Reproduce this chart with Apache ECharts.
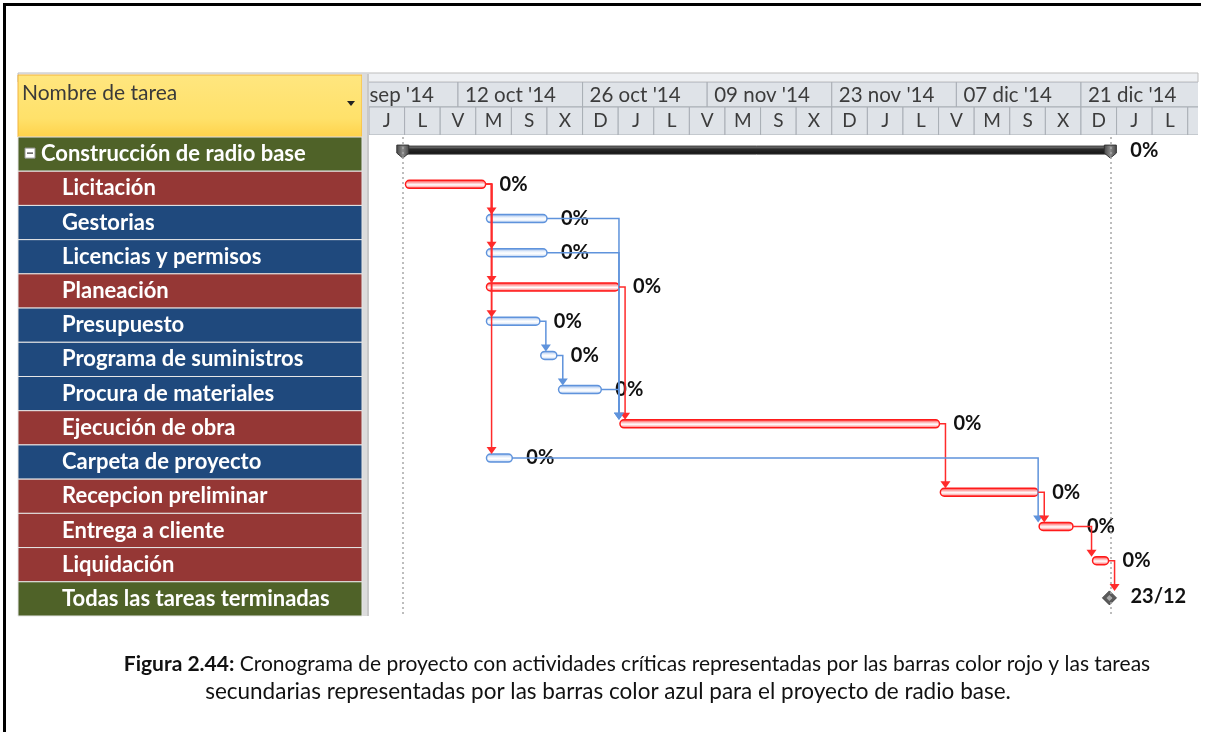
<!DOCTYPE html>
<html>
<head>
<meta charset="utf-8">
<script src="https://cdn.jsdelivr.net/npm/echarts@6/dist/echarts.min.js"></script>
<style>
  html, body { margin: 0; padding: 0; background: #fff; }
  #main { width: 1205px; height: 732px; }
</style>
</head>
<body>
<div id="main"></div>
<script>
// dia 0 = jueves 2 oct 2014
const taskNames = [
  'Construcción de radio base', 'Licitación', 'Gestorias', 'Licencias y permisos',
  'Planeación', 'Presupuesto', 'Programa de suministros', 'Procura de materiales',
  'Ejecución de obra', 'Carpeta de proyecto', 'Recepcion preliminar',
  'Entrega a cliente', 'Liquidación', 'Todas las tareas terminadas'
];
const taskType = ['resumen', 'critica', 'normal', 'normal', 'critica', 'normal', 'normal',
  'normal', 'critica', 'normal', 'critica', 'critica', 'critica', 'hito'];
const taskStart = [3.8, 4.1, 13.2, 13.2, 13.2, 13.2, 19.3, 21.3, 28.2, 13.2, 64.2, 75.3, 81.3, 83.2];
const taskEnd = [83.3, 13.1, 20.0, 20.0, 28.1, 19.2, 21.1, 26.1, 64.1, 16.1, 75.2, 79.1, 83.1, 83.2];
const taskLabel = ['0%', '0%', '0%', '0%', '0%', '0%', '0%', '0%', '0%', '0%', '0%', '0%', '0%', '23/12'];
// predecesora -> sucesora
const links = [[1, 2], [1, 3], [1, 4], [1, 5], [1, 9], [2, 8], [3, 8], [4, 8], [5, 6], [6, 7],
  [7, 8], [8, 10], [9, 11], [10, 11], [11, 12], [12, 13]];

const weekLabels = ["28 sep '14", "12 oct '14", "26 oct '14", "09 nov '14", "23 nov '14", "07 dic '14", "21 dic '14"];
const weekStart = [-4, 10, 24, 38, 52, 66, 80];
const dayLetters = ['J', 'L', 'V', 'M', 'S', 'X', 'D', 'J', 'L', 'V', 'M', 'S', 'X', 'D',
  'J', 'L', 'V', 'M', 'S', 'X', 'D', 'J', 'L', 'V'];

const DAY_MAX = 93.15;
const FONT = 'Lato, "Open Sans", sans-serif';
const RED = '#FF2B2B', BLUE = '#5F93DC';

const chart = echarts.init(document.getElementById('main'));

function rowFill(kind) {
  if (kind === 'critica') return '#953735';
  if (kind === 'normal') return '#1F497D';
  return '#4F6228';
}

function renderRow(params, api) {
  const i = api.value(0);
  const a = api.coord([0, i]);
  const b = api.coord([1, i]);
  const h = api.size([0, 1])[1];
  const kind = taskType[i];
  const kids = [{
    type: 'rect',
    shape: { x: a[0], y: a[1] - h / 2, width: b[0] - a[0], height: h },
    style: { fill: rowFill(kind), stroke: '#E6E6E6', lineWidth: 1 }
  }, {
    type: 'text',
    x: a[0] + (kind === 'resumen' ? 23 : 44),
    y: a[1],
    style: { text: taskNames[i], fill: '#fff', font: 'bold 22px ' + FONT, verticalAlign: 'middle' }
  }];
  if (kind === 'resumen') {
    kids.push({ type: 'rect', shape: { x: a[0] + 7, y: a[1] - 6, width: 10, height: 10 },
      style: { fill: '#fff', stroke: '#999', lineWidth: 1 } });
    kids.push({ type: 'line', shape: { x1: a[0] + 9, y1: a[1] - 1, x2: a[0] + 15, y2: a[1] - 1 },
      style: { stroke: '#333', lineWidth: 1.2 } });
  }
  return { type: 'group', children: kids };
}

function renderWeek(params, api) {
  const a = api.coord([api.value(0), 53]);
  const b = api.coord([api.value(0) + 14, 28]);
  return { type: 'group', children: [
    { type: 'rect', shape: { x: a[0], y: a[1], width: b[0] - a[0], height: b[1] - a[1] },
      style: { fill: '#DFE3E8', stroke: '#A9AEB5', lineWidth: 1 } },
    { type: 'text', x: a[0] + 7, y: (a[1] + b[1]) / 2 + 1,
      style: { text: weekLabels[params.dataIndex], fill: '#3C3C3C', font: '20.5px ' + FONT, verticalAlign: 'middle' } }
  ] };
}

function renderDay(params, api) {
  const a = api.coord([api.value(0), 28]);
  const b = api.coord([api.value(0) + 4, 0]);
  return { type: 'group', children: [
    { type: 'rect', shape: { x: a[0], y: a[1], width: b[0] - a[0], height: b[1] - a[1] },
      style: { fill: '#DFE3E8', stroke: '#A9AEB5', lineWidth: 1 } },
    { type: 'text', x: (a[0] + b[0]) / 2, y: (a[1] + b[1]) / 2,
      style: { text: dayLetters[params.dataIndex], fill: '#3C3C3C', font: '19px ' + FONT,
        align: 'center', verticalAlign: 'middle' } }
  ] };
}

function barGradient(edge, mid) {
  return new echarts.graphic.LinearGradient(0, 0, 0, 1, [
    { offset: 0, color: edge }, { offset: 0.35, color: mid }, { offset: 0.55, color: '#ffffff' },
    { offset: 0.75, color: mid }, { offset: 1, color: edge }
  ]);
}

function renderBar(params, api) {
  const i = api.value(0);
  const s = api.coord([api.value(1), i]);
  const e = api.coord([api.value(2), i]);
  const kind = taskType[i];
  const cy = s[1] - 4;
  const kids = [];
  let labelX = e[0] + 14;
  if (kind === 'resumen') {
    kids.push({ type: 'rect', shape: { x: s[0], y: cy - 4, width: e[0] - s[0], height: 8 },
      style: { fill: new echarts.graphic.LinearGradient(0, 0, 0, 1, [
        { offset: 0, color: '#9a9a9a' }, { offset: 0.4, color: '#2a2a2a' }, { offset: 1, color: '#111' }]),
        stroke: '#333', lineWidth: 1 } });
    [s[0], e[0]].forEach(function (x) {
      kids.push({ type: 'polygon', shape: { points: [[x - 6, cy - 5], [x + 6, cy - 5], [x + 6, cy + 3], [x, cy + 8], [x - 6, cy + 3]] },
        style: { fill: new echarts.graphic.LinearGradient(0, 0, 1, 0, [
          { offset: 0, color: '#444' }, { offset: 0.5, color: '#8a8a8a' }, { offset: 1, color: '#444' }]),
          stroke: '#333', lineWidth: 1 } });
    });
    labelX = e[0] + 20;
  } else if (kind === 'hito') {
    const my = s[1] - 1;
    kids.push({ type: 'polygon', shape: { points: [[s[0], my - 7], [s[0] + 7, my], [s[0], my + 7], [s[0] - 7, my]] },
      style: { fill: '#5a5a5a', stroke: '#444', lineWidth: 1 } });
    kids.push({ type: 'polygon', shape: { points: [[s[0], my - 3], [s[0] + 3, my], [s[0], my + 3], [s[0] - 3, my]] },
      style: { fill: '#aaa' } });
    labelX = s[0] + 21;
  } else {
    const crit = kind === 'critica';
    kids.push({ type: 'rect', shape: { x: s[0], y: cy - 4, width: Math.max(e[0] - s[0], 4), height: 8, r: 4 },
      style: { fill: crit ? barGradient('#FF2020', '#FFB8B8') : barGradient('#7FA8E6', '#E4EDFA'),
        stroke: crit ? '#FF1A1A' : BLUE, lineWidth: 1.5 } });
  }
  kids.push({ type: 'text', x: labelX, y: kind === 'hito' ? s[1] - 2 : cy,
    style: { text: taskLabel[i], fill: '#111', font: 'bold 20px ' + FONT, verticalAlign: 'middle' } });
  return { type: 'group', children: kids };
}

function renderLink(params, api) {
  const p = links[params.dataIndex][0];
  const q = links[params.dataIndex][1];
  const pe = api.coord([api.value(0), api.value(1)]);
  const qs = api.coord([api.value(2), api.value(3)]);
  const py = pe[1] - 4;
  const qTop = qs[1] - 8;
  const vx = Math.max(pe[0] + 6, qs[0] - 1);
  const color = taskType[p] === 'critica' ? RED : BLUE;
  return { type: 'group', children: [
    { type: 'polyline', shape: { points: [[pe[0], py], [vx, py], [vx, qTop - 3]] },
      style: { stroke: color, lineWidth: 1.5, fill: null } },
    { type: 'polygon', shape: { points: [[vx - 5, qTop - 7], [vx + 5, qTop - 7], [vx, qTop]] },
      style: { fill: color } }
  ] };
}

const option = {
  animation: false,
  backgroundColor: '#fff',
  grid: [
    { left: 18, top: 137, width: 344, height: 479, containLabel: false },
    { left: 369, top: 82, width: 829, height: 53, containLabel: false },
    { left: 369, top: 137, width: 829, height: 479, containLabel: false }
  ],
  xAxis: [
    { type: 'value', gridIndex: 0, min: 0, max: 1, show: false },
    { type: 'value', gridIndex: 1, min: 0, max: DAY_MAX, show: false },
    { type: 'value', gridIndex: 2, min: 0, max: DAY_MAX, show: false }
  ],
  yAxis: [
    { type: 'category', gridIndex: 0, data: taskNames, inverse: true, show: false },
    { type: 'value', gridIndex: 1, min: 0, max: 53, show: false },
    { type: 'category', gridIndex: 2, data: taskNames, inverse: true, show: false }
  ],
  graphic: [
    { type: 'line', shape: { x1: 3, y1: 4.5, x2: 1201, y2: 4.5 }, style: { stroke: '#000', lineWidth: 3 } },
    { type: 'line', shape: { x1: 4.5, y1: 3, x2: 4.5, y2: 732 }, style: { stroke: '#000', lineWidth: 3 } },
    { type: 'rect', shape: { x: 18, y: 73, width: 1180, height: 9 }, style: { fill: '#EEF0F3', stroke: '#BDBDBD', lineWidth: 1 } },
    { type: 'rect', shape: { x: 18, y: 75, width: 344, height: 62 },
      style: { fill: new echarts.graphic.LinearGradient(0, 0, 0, 1, [
        { offset: 0, color: '#FFE67F' }, { offset: 0.7, color: '#FFE16A' }, { offset: 1, color: '#FFD24A' }]),
        stroke: '#F2B33D', lineWidth: 1 } },
    { type: 'text', x: 22, y: 93, style: { text: 'Nombre de tarea', fill: '#3A3A3A', font: '21px ' + FONT, verticalAlign: 'middle' } },
    { type: 'polygon', shape: { points: [[347, 101], [355, 101], [351, 106]] }, style: { fill: '#222' } },
    { type: 'rect', shape: { x: 362, y: 74, width: 7, height: 542 }, style: { fill: '#DCDCDC' } },
    { type: 'line', shape: { x1: 368, y1: 74, x2: 368, y2: 616 }, style: { stroke: '#B5B5B5', lineWidth: 1 } },
    { type: 'text', x: 637, y: 664,
      style: { text: '{b|Figura 2.44:} Cronograma de proyecto con actividades críticas representadas por las barras color rojo y las tareas',
        fill: '#111', font: '21px ' + FONT, align: 'center', verticalAlign: 'middle',
        rich: { b: { fontWeight: 'bold', fontSize: 21, fontFamily: FONT, fill: '#111' } } } },
    { type: 'text', x: 608, y: 692,
      style: { text: 'secundarias representadas por las barras color azul para el proyecto de radio base.',
        fill: '#111', font: '22.5px ' + FONT, align: 'center', verticalAlign: 'middle' } }
  ],
  series: [
    { type: 'custom', name: 'tabla', xAxisIndex: 0, yAxisIndex: 0, renderItem: renderRow,
      data: taskNames.map(function (n, i) { return [i]; }), encode: { y: 0 } },
    { type: 'custom', name: 'semanas', xAxisIndex: 1, yAxisIndex: 1, clip: true, renderItem: renderWeek,
      data: weekStart.map(function (d) { return [d]; }), encode: { x: 0 } },
    { type: 'custom', name: 'dias', xAxisIndex: 1, yAxisIndex: 1, clip: true, renderItem: renderDay,
      data: dayLetters.map(function (l, k) { return [k * 4]; }), encode: { x: 0 } },
    { type: 'custom', name: 'vinculos', xAxisIndex: 2, yAxisIndex: 2, z: 3, renderItem: renderLink,
      data: links.map(function (l) { return [taskEnd[l[0]], l[0], taskStart[l[1]], l[1]]; }),
      encode: { x: [0, 2], y: [1, 3] } },
    { type: 'custom', name: 'tareas', xAxisIndex: 2, yAxisIndex: 2, z: 2, renderItem: renderBar,
      data: taskNames.map(function (n, i) { return [i, taskStart[i], taskEnd[i]]; }),
      encode: { x: [1, 2], y: 0 },
      markLine: { silent: true, symbol: 'none', label: { show: false },
        lineStyle: { color: '#A8A8A8', type: [2, 3], width: 1.5 },
        data: [{ xAxis: taskStart[0] }, { xAxis: taskEnd[0] }] } }
  ]
};
chart.setOption(option);
</script>
</body>
</html>
